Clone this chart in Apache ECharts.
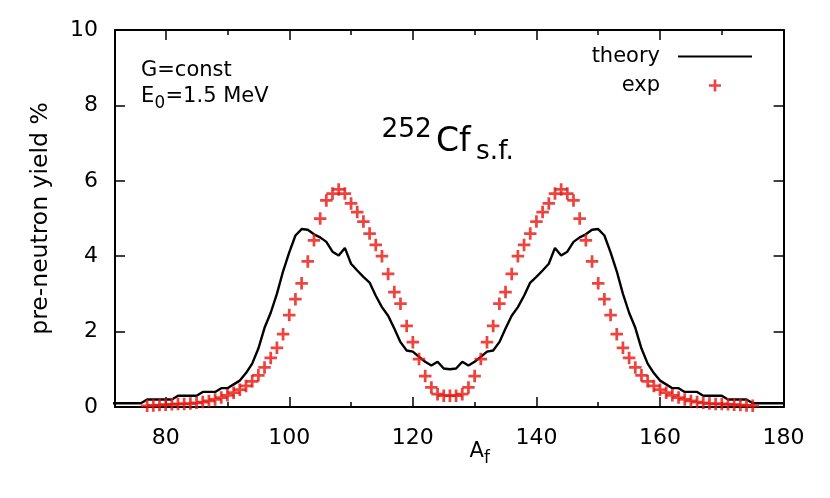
<!DOCTYPE html>
<html>
<head>
<meta charset="utf-8">
<script src="https://cdn.jsdelivr.net/npm/echarts@6/dist/echarts.min.js"></script>
<style>
html,body{margin:0;padding:0;background:#fff;}
#chart{width:830px;height:498px;}
</style>
</head>
<body>
<div id="chart"></div>
<script>
// ---- data ----
const massTheory = [70,71,72,73,74,75,76,77,78,79,80,81,82,83,84,85,86,87,88,89,90,91,92,93,94,95,96,97,98,99,100,101,102,103,104,105,106,107,108,109,110,111,112,113,114,115,116,117,118,119,120,121,122,123,124,125,126,127,128,129,130,131,132,133,134,135,136,137,138,139,140,141,142,143,144,145,146,147,148,149,150,151,152,153,154,155,156,157,158,159,160,161,162,163,164,165,166,167,168,169,170,171,172,173,174,175,176,177,178,179,180,181,182];
const yieldTheory = [0.1,0.1,0.1,0.1,0.1,0.1,0.1,0.2,0.2,0.2,0.2,0.2,0.3,0.3,0.3,0.3,0.4,0.4,0.4,0.5,0.5,0.6,0.7,0.9,1.15,1.55,2.1,2.5,3.0,3.6,4.1,4.55,4.72,4.7,4.58,4.5,4.38,4.12,4.02,4.22,3.8,3.62,3.45,3.3,2.95,2.65,2.42,2.08,1.72,1.5,1.47,1.33,1.2,1.1,1.2,1.02,1.0,1.02,1.2,1.1,1.2,1.33,1.47,1.5,1.72,2.08,2.42,2.65,2.95,3.3,3.45,3.62,3.8,4.22,4.02,4.12,4.38,4.5,4.58,4.7,4.72,4.55,4.1,3.6,3.0,2.5,2.1,1.55,1.15,0.9,0.7,0.6,0.5,0.5,0.4,0.4,0.4,0.3,0.3,0.3,0.3,0.2,0.2,0.2,0.2,0.1,0.1,0.1,0.1,0.1,0.1,0.1,0.1];
const massExp = [77,78,79,80,81,82,83,84,85,86,87,88,89,90,91,92,93,94,95,96,97,98,99,100,101,102,103,104,105,106,107,108,109,110,111,112,113,114,115,116,117,118,119,120,121,122,123,124,125,126,127,128,129,130,131,132,133,134,135,136,137,138,139,140,141,142,143,144,145,146,147,148,149,150,151,152,153,154,155,156,157,158,159,160,161,162,163,164,165,166,167,168,169,170,171,172,173,174,175];
const yieldExp = [0.03,0.04,0.05,0.06,0.07,0.08,0.08,0.09,0.11,0.13,0.16,0.2,0.25,0.31,0.38,0.46,0.56,0.68,0.84,1.05,1.3,1.57,1.93,2.44,2.86,3.28,3.86,4.42,5.0,5.48,5.66,5.77,5.66,5.4,5.17,4.92,4.6,4.3,4.0,3.53,3.05,2.74,2.15,1.72,1.27,0.82,0.52,0.34,0.3,0.3,0.3,0.34,0.52,0.82,1.27,1.72,2.15,2.74,3.05,3.53,4.0,4.3,4.6,4.92,5.17,5.4,5.66,5.77,5.66,5.48,5.0,4.42,3.86,3.28,2.86,2.44,1.93,1.57,1.3,1.05,0.84,0.68,0.56,0.46,0.38,0.31,0.25,0.2,0.16,0.13,0.11,0.09,0.08,0.08,0.07,0.06,0.05,0.04,0.03];
const xMajorTicks = [80,100,120,140,160,180];
const xMinorTicks = [90,110,130,150,170];
const seriesNames = ['theory','exp'];

// ---- chart ----
const FONT = 'DejaVu Sans';
const plusPath = 'path://M3.9,0H6.1V3.9H10V6.1H6.1V10H3.9V6.1H0V3.9H3.9Z';
const theoryPts = massTheory.map((a,i)=>[a,yieldTheory[i]]);
const expPts = massExp.map((a,i)=>[a,yieldExp[i]]);
const chart = echarts.init(document.getElementById('chart'), null, {renderer:'canvas'});

function xAx(pos, ticks, len, line, labels){
  return {
    type:'value', position:pos, min:71.8, max:180,
    axisLine:{show:line, onZero:false, lineStyle:{color:'#000', width:2}},
    axisTick:{show:true, inside:true, length:len, customValues:ticks, lineStyle:{color:'#000', width:1.5}},
    axisLabel:{show:labels, customValues:xMajorTicks, margin:20, color:'#000', fontSize:22, fontFamily:FONT},
    splitLine:{show:false}
  };
}
function yAx(pos, labels){
  return {
    type:'value', position:pos, min:0, max:10, interval:2,
    name: labels ? 'pre-neutron yield %' : '',
    nameLocation:'middle', nameGap:62,
    nameTextStyle:{color:'#000', fontSize:23.5, fontFamily:FONT},
    axisLine:{show:true, lineStyle:{color:'#000', width:2}},
    axisTick:{show:true, inside:true, length:10, lineStyle:{color:'#000', width:1.5}},
    axisLabel:{show:labels, margin:17, color:'#000', fontSize:22, fontFamily:FONT},
    splitLine:{show:false}
  };
}

const option = {
  animation:false,
  backgroundColor:'#fff',
  grid:{left:115, right:46.4, top:30, bottom:91, containLabel:false},
  xAxis:[
    xAx('bottom', xMajorTicks, 10, true, true),
    xAx('bottom', xMinorTicks, 5, false, false),
    xAx('top', xMajorTicks, 10, true, false),
    xAx('top', xMinorTicks, 5, false, false)
  ],
  yAxis:[ yAx('left', true), yAx('right', false) ],
  legend:{
    orient:'vertical', right:73, top:41, align:'right',
    itemWidth:74, itemHeight:12, itemGap:8,
    textStyle:{color:'#000', fontSize:21, fontFamily:FONT, padding:[0,13,0,0]},
    data:[{name:seriesNames[0], icon:'path://M0,0H100V2.8H0Z'},{name:seriesNames[1], icon:plusPath}]
  },
  series:[
    {name:seriesNames[0], type:'line', data:theoryPts, showSymbol:false, symbol:'none',
     color:'#000', lineStyle:{color:'#000', width:2.4}, z:2, clip:true},
    {name:seriesNames[1], type:'scatter', data:expPts, symbol:plusPath, symbolSize:12.5,
     itemStyle:{color:'#e8150f'}, z:3, clip:false}
  ],
  graphic:[
    {type:'text', x:141, y:70.5, style:{text:'G=const', font:'21px "DejaVu Sans"', fill:'#000', verticalAlign:'middle'}},
    {type:'text', x:141, y:97, style:{text:'E', font:'21px "DejaVu Sans"', fill:'#000', verticalAlign:'middle'}},
    {type:'text', x:154.5, y:103.3, style:{text:'0', font:'16.8px "DejaVu Sans"', fill:'#000', verticalAlign:'middle'}},
    {type:'text', x:165.5, y:97, style:{text:'=1.5 MeV', font:'21px "DejaVu Sans"', fill:'#000', verticalAlign:'middle'}},
    {type:'text', x:381.5, y:130, style:{text:'252', font:'26.4px "DejaVu Sans"', fill:'#000', verticalAlign:'middle'}},
    {type:'text', x:436, y:142, style:{text:'Cf', font:'33px "DejaVu Sans"', fill:'#000', verticalAlign:'middle'}},
    {type:'text', x:476, y:152.2, style:{text:'s.f.', font:'26.4px "DejaVu Sans"', fill:'#000', verticalAlign:'middle'}},
    {type:'text', x:469.5, y:452, style:{text:'A', font:'21px "DejaVu Sans"', fill:'#000', verticalAlign:'middle'}},
    {type:'text', x:484, y:458.3, style:{text:'f', font:'16.8px "DejaVu Sans"', fill:'#000', verticalAlign:'middle'}}
  ]
};
chart.setOption(option);
</script>
</body>
</html>
